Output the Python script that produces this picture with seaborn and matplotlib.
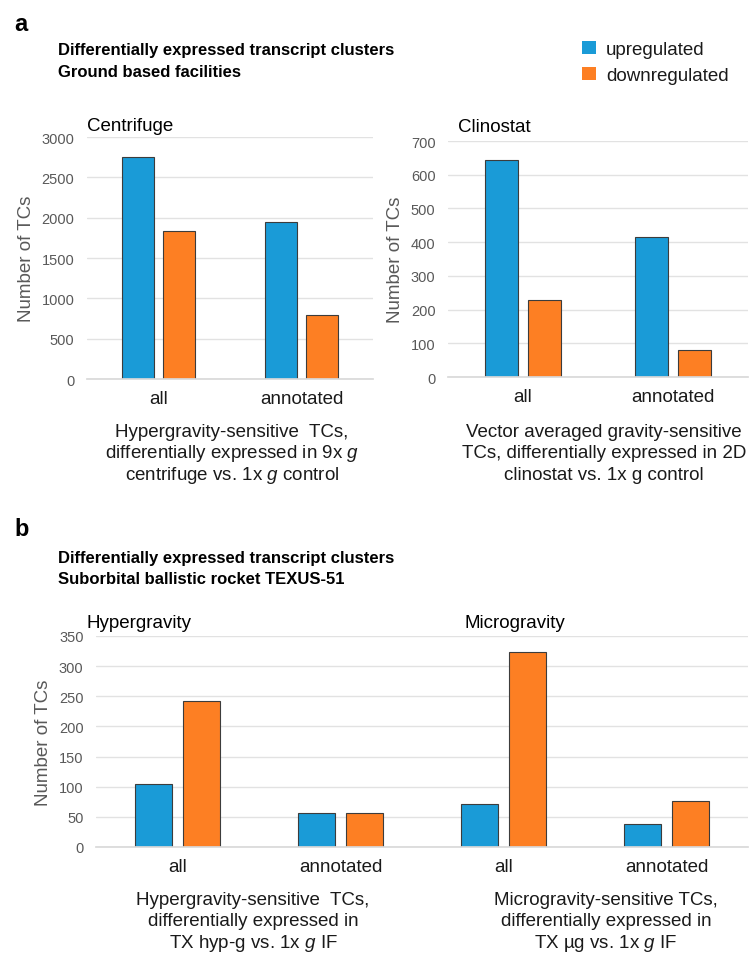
import numpy as np
import pandas as pd
import matplotlib
matplotlib.use('Agg')
import matplotlib.pyplot as plt
import matplotlib.patches as mpatches
import seaborn as sns

# Data
categories = ['all', 'annotated']
regulation = ['upregulated', 'downregulated']

centrifuge_up = [2750, 1950]
centrifuge_down = [1840, 795]
clinostat_up = [645, 416]
clinostat_down = [228, 80]
hyper_up = [104, 56]
hyper_down = [242, 56]
micro_up = [72, 38]
micro_down = [324, 76]

colors = {'upregulated': '#1a9bd7', 'downregulated': '#fd7f23'}

sns.set_theme(style='white')
plt.rcParams['font.family'] = ['Liberation Sans', 'DejaVu Sans']
plt.rcParams['mathtext.fontset'] = 'custom'
plt.rcParams['mathtext.rm'] = 'Liberation Sans'
plt.rcParams['mathtext.it'] = 'Liberation Sans:italic'

W, H = 750, 954


def fx(px):
    return px / W


def fy(py):
    return 1 - py / H


def long_table(keys, up, down):
    return pd.DataFrame({
        'category': keys * 2,
        'regulation': [regulation[0]] * len(keys) + [regulation[1]] * len(keys),
        'count': up + down,
    })


def style_axis(ax, ymax, step, ticklabels):
    ax.set_ylim(0, ymax)
    ax.set_yticks(np.arange(0, ymax + 1, step))
    ax.grid(axis='y', color='#e2e2e2', lw=1)
    ax.set_axisbelow(True)
    for s in ['left', 'right', 'top']:
        ax.spines[s].set_visible(False)
    ax.spines['bottom'].set_color('#d9d9d9')
    ax.tick_params(axis='y', length=0, pad=9, labelsize=10.5, labelcolor='#595959')
    ax.tick_params(axis='x', length=0, pad=8, labelsize=13.5, labelcolor='#1a1a1a')
    ax.set_xticks(range(len(ticklabels)))
    ax.set_xticklabels(ticklabels)
    ax.set_xlabel('')
    ax.set_ylabel('Number of TCs', fontsize=13.5, color='#595959', labelpad=5)


fig = plt.figure(figsize=(7.5, 9.54), dpi=100)

ax1 = fig.add_axes([fx(87), fy(380), (373 - 87) / W, (380 - 138) / H])
ax2 = fig.add_axes([fx(448), fy(378), (748 - 448) / W, (378 - 142) / H])
ax3 = fig.add_axes([fx(96), fy(848), (748 - 96) / W, (848 - 637) / H])

bar_kw = dict(x='category', y='count', hue='regulation', hue_order=regulation,
              palette=colors, saturation=1, errorbar=None, edgecolor='#3c3c3c',
              linewidth=0.8, legend=False)

sns.barplot(data=long_table(categories, centrifuge_up, centrifuge_down), ax=ax1,
            width=0.57, gap=0.22, **bar_kw)
style_axis(ax1, 3000, 500, categories)

sns.barplot(data=long_table(categories, clinostat_up, clinostat_down), ax=ax2,
            width=0.57, gap=0.22, **bar_kw)
style_axis(ax2, 700, 100, categories)

b_keys = ['hyper all', 'hyper annotated', 'micro all', 'micro annotated']
sns.barplot(data=long_table(b_keys, hyper_up + micro_up, hyper_down + micro_down),
            ax=ax3, width=0.59, gap=0.23, **bar_kw)
style_axis(ax3, 350, 50, categories * 2)

# panel letters and titles
fig.text(fx(14), fy(31), 'a', fontsize=17, weight='bold', va='baseline', color='black')
fig.text(fx(58), fy(55), 'Differentially expressed transcript clusters',
         fontsize=12, weight='bold', va='baseline', color='black')
fig.text(fx(58), fy(77), 'Ground based facilities',
         fontsize=12, weight='bold', va='baseline', color='black')

fig.text(fx(14), fy(536), 'b', fontsize=17, weight='bold', va='baseline', color='black')
fig.text(fx(58), fy(563), 'Differentially expressed transcript clusters',
         fontsize=12, weight='bold', va='baseline', color='black')
fig.text(fx(58), fy(584), 'Suborbital ballistic rocket TEXUS-51',
         fontsize=12, weight='bold', va='baseline', color='black')

# subplot headings
fig.text(fx(87), fy(131), 'Centrifuge', fontsize=13.5, va='baseline', color='black')
fig.text(fx(458), fy(132), 'Clinostat', fontsize=13.5, va='baseline', color='black')
fig.text(fx(87), fy(628), 'Hypergravity', fontsize=13.5, va='baseline', color='black')
fig.text(fx(465), fy(628), 'Microgravity', fontsize=13.5, va='baseline', color='black')

# captions below the axes
captions = [
    (232, 437, ['Hypergravity-sensitive  TCs,',
                'differentially expressed in 9x $g$',
                'centrifuge vs. 1x $g$ control']),
    (604, 437, ['Vector averaged gravity-sensitive',
                'TCs, differentially expressed in 2D',
                'clinostat vs. 1x g control']),
    (253, 905, ['Hypergravity-sensitive  TCs,',
                'differentially expressed in',
                'TX hyp-g vs. 1x $g$ IF']),
    (606, 905, ['Microgravity-sensitive TCs,',
                'differentially expressed in',
                'TX µg vs. 1x $g$ IF']),
]
for cx, cy, lines in captions:
    for i, line in enumerate(lines):
        fig.text(fx(cx), fy(cy + 21.5 * i), line, fontsize=13.5, ha='center',
                 va='baseline', color='#1a1a1a')

# legend
handles = [mpatches.Patch(facecolor=colors[r], edgecolor='none', label=r)
           for r in regulation]
leg = fig.legend(handles=handles, loc='upper left', bbox_to_anchor=(fx(578), fy(38)),
                 frameon=False, fontsize=13.5, handlelength=0.75, handleheight=0.7,
                 handletextpad=0.55, labelspacing=0.5, borderaxespad=0, borderpad=0.2)
for t in leg.get_texts():
    t.set_color('#1a1a1a')

fig.savefig('out.png', dpi=100)
